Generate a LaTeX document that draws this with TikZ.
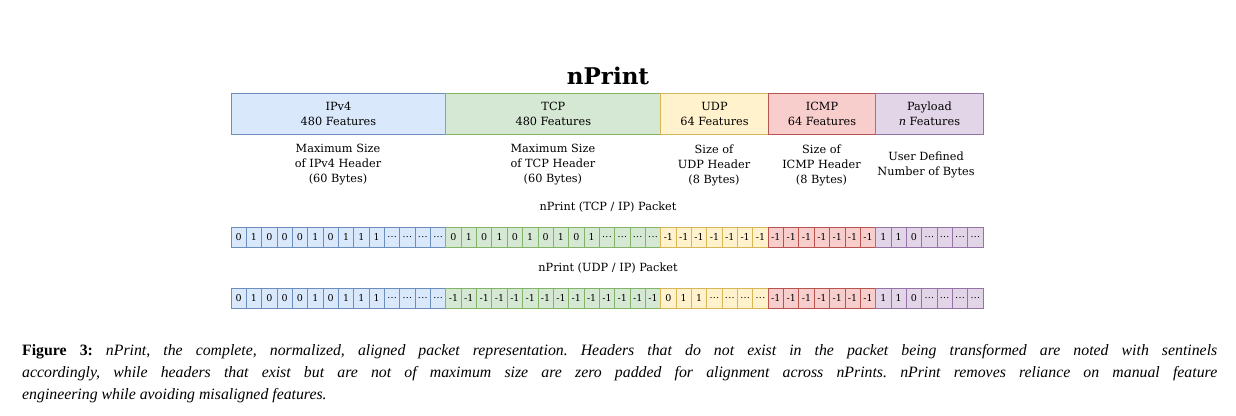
\documentclass[tikz,border=0pt]{standalone}
\usepackage{fontspec}
\setmainfont{DejaVu Serif}
\newfontfamily\capfont{Liberation Serif}
\definecolor{ipf}{HTML}{DAE8FC}\definecolor{ipd}{HTML}{6C8EBF}
\definecolor{tcf}{HTML}{D5E8D4}\definecolor{tcd}{HTML}{82B366}
\definecolor{udf}{HTML}{FFF2CC}\definecolor{udd}{HTML}{D6B656}
\definecolor{icf}{HTML}{F8CECC}\definecolor{icd}{HTML}{B85450}
\definecolor{paf}{HTML}{E1D5E7}\definecolor{pad}{HTML}{9673A6}
\newcommand\dd{.\kern0.3pt.\kern0.3pt.}
\frenchspacing
\begin{document}
\begin{tikzpicture}[x=1pt,y=-1pt,
  seg/.style={draw, line width=1pt, minimum height=41.6pt, inner sep=0pt, align=center,
    anchor=north west, font=\fontsize{11.3}{14.5}\selectfont},
  cell/.style={draw, line width=0.8pt, minimum width=15.35pt, minimum height=20.5pt, inner sep=0pt,
    anchor=north west, font=\fontsize{9.5}{10}\selectfont},
  desc/.style={align=center, inner sep=0pt, font=\fontsize{11.3}{15}\selectfont},
  lab/.style={anchor=base, inner sep=0pt, font=\fontsize{11.3}{12}\selectfont},
  capline/.style={anchor=base west, inner sep=0pt, font=\capfont\fontsize{15.8}{19}\selectfont},
  ip/.style={fill=ipf, draw=ipd}, tc/.style={fill=tcf, draw=tcd}, ud/.style={fill=udf, draw=udd},
  ic/.style={fill=icf, draw=icd}, pa/.style={fill=paf, draw=pad}]
\useasboundingbox (0,0) rectangle (1236,415);

\node[anchor=base, inner sep=0pt, font=\fontsize{23}{26}\selectfont\bfseries] (title) at (608,84) {nPrint};

\node[seg, ip, minimum width=214.9pt] (ipv4) at (230.5,92.7) {IPv4\\480 Features};
\node[seg, tc, minimum width=214.9pt] (tcp) at (445.4,92.7) {TCP\\480 Features};
\node[seg, ud, minimum width=107.45pt] (udp) at (660.3,92.7) {UDP\\64 Features};
\node[seg, ic, minimum width=107.45pt] (icmp) at (767.75,92.7) {ICMP\\64 Features};
\node[seg, pa, minimum width=107.45pt] (pay) at (875.2,92.7) {Payload\\\textit{n} Features};

\node[desc] (dip) at (338,165) {Maximum Size\\of IPv4 Header\\(60 Bytes)};
\node[desc] (dtc) at (552.9,165) {Maximum Size\\of TCP Header\\(60 Bytes)};
\node[desc] (dud) at (714,165) {Size of\\UDP Header\\(8 Bytes)};
\node[desc] (dic) at (821.5,165) {Size of\\ICMP Header\\(8 Bytes)};
\node[desc] (dpa) at (926,165) {User Defined\\Number of Bytes};

\node[lab] (lab1) at (608,210) {nPrint (TCP / IP) Packet};
\node[lab] (lab2) at (608,271.5) {nPrint (UDP / IP) Packet};

% row 1
\foreach \v [count=\i from 0] in {0,1,0,0,0,1,0,1,1,1,\dd,\dd,\dd,\dd}
  \node[cell, ip] (a\i) at (230.5+\i*15.35,226.7) {\v};
\foreach \v [count=\i from 14] in {0,1,0,1,0,1,0,1,0,1,\dd,\dd,\dd,\dd}
  \node[cell, tc] (a\i) at (230.5+\i*15.35,226.7) {\v};
\foreach \v [count=\i from 28] in {-1,-1,-1,-1,-1,-1,-1}
  \node[cell, ud] (a\i) at (230.5+\i*15.35,226.7) {\v};
\foreach \v [count=\i from 35] in {-1,-1,-1,-1,-1,-1,-1}
  \node[cell, ic] (a\i) at (230.5+\i*15.35,226.7) {\v};
\foreach \v [count=\i from 42] in {1,1,0,\dd,\dd,\dd,\dd}
  \node[cell, pa] (a\i) at (230.5+\i*15.35,226.7) {\v};

% row 2
\foreach \v [count=\i from 0] in {0,1,0,0,0,1,0,1,1,1,\dd,\dd,\dd,\dd}
  \node[cell, ip] (b\i) at (230.5+\i*15.35,287.8) {\v};
\foreach \v [count=\i from 14] in {-1,-1,-1,-1,-1,-1,-1,-1,-1,-1,-1,-1,-1,-1}
  \node[cell, tc] (b\i) at (230.5+\i*15.35,287.8) {\v};
\foreach \v [count=\i from 28] in {0,1,1,\dd,\dd,\dd,\dd}
  \node[cell, ud] (b\i) at (230.5+\i*15.35,287.8) {\v};
\foreach \v [count=\i from 35] in {-1,-1,-1,-1,-1,-1,-1}
  \node[cell, ic] (b\i) at (230.5+\i*15.35,287.8) {\v};
\foreach \v [count=\i from 42] in {1,1,0,\dd,\dd,\dd,\dd}
  \node[cell, pa] (b\i) at (230.5+\i*15.35,287.8) {\v};

\node[capline] (cap1) at (22,355) {\makebox[1195pt][s]{\textbf{Figure 3:} \textit{nPrint, the complete, normalized, aligned packet representation. Headers that do not exist in the packet being transformed are noted with sentinels}}};
\node[capline] (cap2) at (22,377) {\makebox[1195pt][s]{\textit{accordingly, while headers that exist but are not of maximum size are zero padded for alignment across nPrints. nPrint removes reliance on manual feature}}};
\node[capline] (cap3) at (22,399) {\textit{engineering while avoiding misaligned features.}};
\end{tikzpicture}
\end{document}
